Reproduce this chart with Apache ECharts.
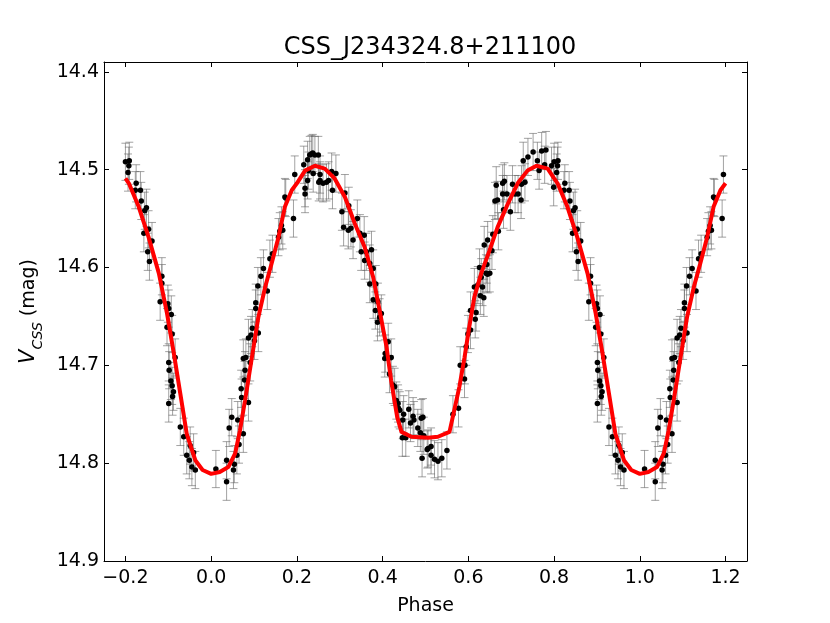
<!DOCTYPE html>
<html>
<head>
<meta charset="utf-8">
<script src="https://cdn.jsdelivr.net/npm/echarts@6/dist/echarts.min.js"></script>
<style>
  html, body { margin: 0; padding: 0; background: #fff; }
  #main { width: 830px; height: 623px; }
</style>
</head>
<body>
<div id="main"></div>
<script>
var obsPhase = [
  0.011,0.036,0.036,0.042,0.048,0.052,0.054,0.060,0.062,0.065,0.070,0.071,0.075,0.075,0.078,0.079,0.081,0.087,0.087,0.091,
  0.093,0.096,0.101,0.104,0.104,0.109,0.110,0.116,0.122,0.131,0.137,0.143,0.157,0.160,0.164,0.167,0.172,0.174,0.192,0.195,
  0.216,0.219,0.219,0.225,0.225,0.227,0.230,0.234,0.237,0.238,0.242,0.250,0.251,0.254,0.254,0.261,0.269,0.274,0.281,0.283,
  0.291,0.305,0.309,0.312,0.320,0.321,0.326,0.331,0.341,0.347,0.350,0.357,0.358,0.362,0.370,0.370,0.374,0.378,0.378,0.383,
  0.384,0.389,0.388,0.393,0.397,0.405,0.406,0.413,0.416,0.420,0.424,0.428,0.432,0.436,0.437,0.440,0.446,0.447,0.449,0.454,
  0.461,0.465,0.471,0.473,0.482,0.488,0.490,0.492,0.494,0.496,0.504,0.506,0.513,0.513,0.521,0.529,0.538,0.550,0.564,0.577,
  0.581,0.591,0.592,0.595,0.599,0.605,0.605,0.616,0.618,0.614,0.622,0.626,0.628,0.630,0.633,0.636,0.637,0.641,0.643,0.645,
  0.645,0.650,0.655,0.657,0.662,0.665,0.668,0.670,0.680,0.680,0.682,0.684,0.690,0.698,0.703,0.709,0.716,0.723,0.724,0.728,
  0.732,0.739,0.751,0.761,0.765,0.771,0.778,0.781,0.794,0.799,0.800,0.806,0.808,0.809,0.823,0.825,0.835,0.837,0.843,0.845,
  0.849,0.852,0.854,0.856,0.862,0.881,0.885,0.885,0.897,0.899,0.901,0.901,0.901,0.902,0.906,0.907,0.909,0.909,0.910,0.912,
  0.916,0.928,0.936,0.943,0.949,0.951,0.955,0.959,0.963
];
var obsMag = [
  14.806,14.819,14.797,14.764,14.753,14.807,14.801,14.792,14.756,14.781,14.724,14.733,14.770,14.693,14.715,14.705,14.692,14.738,14.672,14.697,
  14.669,14.662,14.675,14.642,14.636,14.619,14.667,14.609,14.601,14.624,14.591,14.586,14.569,14.563,14.557,14.562,14.528,14.529,14.550,14.505,
  14.495,14.519,14.525,14.511,14.490,14.501,14.485,14.484,14.483,14.504,14.485,14.485,14.513,14.505,14.511,14.514,14.513,14.511,14.502,14.521,
  14.504,14.543,14.559,14.524,14.562,14.537,14.560,14.572,14.550,14.565,14.584,14.567,14.593,14.584,14.596,14.617,14.582,14.601,14.633,14.644,
  14.617,14.635,14.656,14.651,14.647,14.693,14.688,14.676,14.709,14.692,14.720,14.722,14.736,14.739,14.744,14.746,14.774,14.756,14.750,14.774,
  14.745,14.759,14.752,14.756,14.764,14.769,14.754,14.795,14.753,14.772,14.786,14.785,14.783,14.792,14.796,14.798,14.795,14.787,14.750,14.744,
  14.700,14.714,14.700,14.681,14.668,14.664,14.644,14.653,14.646,14.620,14.618,14.600,14.629,14.610,14.620,14.631,14.577,14.606,14.597,14.607,
  14.572,14.606,14.583,14.566,14.532,14.516,14.531,14.563,14.514,14.525,14.541,14.512,14.525,14.543,14.515,14.525,14.525,14.531,14.515,14.491,
  14.513,14.487,14.482,14.491,14.501,14.481,14.495,14.480,14.496,14.518,14.492,14.503,14.496,14.491,14.521,14.514,14.521,14.532,14.565,14.542,
  14.539,14.584,14.561,14.594,14.573,14.635,14.609,14.616,14.661,14.637,14.642,14.697,14.739,14.705,14.716,14.648,14.668,14.721,14.732,14.727,
  14.692,14.763,14.773,14.792,14.797,14.782,14.804,14.789,14.807
];
var obsErr = 0.019;

// fitted template over one cycle
var fitPhase = [0.000,0.020,0.040,0.056,0.067,0.079,0.095,0.110,0.126,0.141,0.157,0.172,0.188,0.200,0.219,0.242,0.265,0.288,0.312,0.335,
  0.358,0.378,0.393,0.409,0.420,0.434,0.444,0.467,0.506,0.529,0.556,0.567,0.579,0.591,0.602,0.614,0.630,0.649,0.668,0.692,
  0.715,0.738,0.759,0.785,0.800,0.808,0.831,0.854,0.878,0.897,0.913,0.928,0.943,0.963,0.980];
var fitMag = [14.811,14.809,14.804,14.790,14.767,14.736,14.692,14.651,14.620,14.596,14.569,14.538,14.521,14.514,14.501,14.496,14.499,14.509,14.528,14.555,
  14.579,14.610,14.644,14.681,14.716,14.753,14.768,14.773,14.774,14.773,14.768,14.746,14.722,14.692,14.661,14.630,14.606,14.583,14.559,14.535,
  14.514,14.501,14.496,14.499,14.509,14.514,14.538,14.569,14.606,14.647,14.688,14.729,14.770,14.797,14.807];

var xTicks = [-0.2, 0.0, 0.2, 0.4, 0.6, 0.8, 1.0, 1.2];
var yTicks = [14.4, 14.5, 14.6, 14.7, 14.8, 14.9];

// repeat the cycle over -0.2..1.2 like the original plot
function fold(ph, mg, extra) {
  var out = [];
  [-1, 0, 1].forEach(function (k) {
    for (var i = 0; i < ph.length; i++) {
      var p = +(ph[i] + k).toFixed(4);
      if (p >= -0.2 && p <= 1.2) {
        out.push(extra === undefined ? [p, mg[i]] : [p, mg[i], extra]);
      }
    }
  });
  out.sort(function (a, b) { return a[0] - b[0]; });
  return out;
}
var obsData = fold(obsPhase, obsMag, obsErr);
var fitData = fold(fitPhase, fitMag);

var font = 'DejaVu Sans';
var tickFmt = function (v) { return v.toFixed(1).replace('-', '\u2212'); };

var myChart = echarts.init(document.getElementById('main'));

var frameLine = { onZero: false, lineStyle: { color: '#000', width: 1 } };

var option = {
  backgroundColor: '#fff',
  animation: false,
  title: {
    text: 'CSS_J234324.8+211100',
    left: 425, textAlign: 'center',
    top: 31,
    textStyle: { fontFamily: font, fontSize: 24, fontWeight: 'normal', color: '#000' }
  },
  grid: { left: 104, right: 83, top: 62, bottom: 62 },
  xAxis: [
    {
      type: 'value', min: -0.25, max: 1.25,
      axisLine: frameLine,
      axisTick: { inside: true, length: 5, customValues: xTicks, lineStyle: { color: '#000' } },
      axisLabel: { customValues: xTicks, formatter: tickFmt, fontFamily: font, fontSize: 19, color: '#000', margin: 8 },
      splitLine: { show: false },
      name: 'Phase', nameLocation: 'middle', nameGap: 36,
      nameTextStyle: { fontFamily: font, fontSize: 19, color: '#000' }
    },
    {
      type: 'value', position: 'top', min: -0.25, max: 1.25,
      axisLine: frameLine,
      axisTick: { inside: true, length: 5, customValues: xTicks, lineStyle: { color: '#000' } },
      axisLabel: { show: false },
      splitLine: { show: false }
    }
  ],
  yAxis: [
    {
      type: 'value', inverse: true, min: 14.39, max: 14.9,
      axisLine: frameLine,
      axisTick: { inside: true, length: 5, customValues: yTicks, lineStyle: { color: '#000' } },
      axisLabel: { customValues: yTicks, formatter: tickFmt, fontFamily: font, fontSize: 19, color: '#000', margin: 5 },
      splitLine: { show: false },
      name: '{v|V}{s|CSS}{m| (mag)}', nameLocation: 'middle', nameRotate: 90, nameGap: 54,
      nameTextStyle: {
        color: '#000',
        rich: {
          v: { fontFamily: font, fontStyle: 'italic', fontSize: 21, lineHeight: 26, verticalAlign: 'middle' },
          s: { fontFamily: font, fontStyle: 'italic', fontSize: 14, lineHeight: 26, verticalAlign: 'bottom', padding: [0, 0, -4, 0] },
          m: { fontFamily: font, fontSize: 19, lineHeight: 26, verticalAlign: 'middle' }
        }
      }
    },
    {
      type: 'value', position: 'right', inverse: true, min: 14.39, max: 14.9,
      axisLine: frameLine,
      axisTick: { inside: true, length: 5, customValues: yTicks, lineStyle: { color: '#000' } },
      axisLabel: { show: false },
      splitLine: { show: false }
    }
  ],
  series: [
    {
      // error bars with caps
      type: 'custom',
      data: obsData,
      z: 1,
      renderItem: function (params, api) {
        var x = api.value(0), y = api.value(1), e = api.value(2);
        var c = api.coord([x, y]);
        var t = api.coord([x, y - e]);
        var b = api.coord([x, y + e]);
        var st = { stroke: 'rgba(100,100,100,0.6)', lineWidth: 1 };
        return {
          type: 'group',
          children: [
            { type: 'line', shape: { x1: c[0], y1: t[1], x2: c[0], y2: b[1] }, style: st },
            { type: 'line', shape: { x1: c[0] - 4, y1: t[1], x2: c[0] + 4, y2: t[1] }, style: st },
            { type: 'line', shape: { x1: c[0] - 4, y1: b[1], x2: c[0] + 4, y2: b[1] }, style: st }
          ]
        };
      }
    },
    {
      type: 'scatter',
      data: obsData,
      symbolSize: 5.5,
      itemStyle: { color: '#000', opacity: 1 },
      z: 2
    },
    {
      type: 'line',
      data: fitData,
      showSymbol: false,
      lineStyle: { color: '#ff0000', width: 4 },
      z: 3
    }
  ]
};

myChart.setOption(option);
</script>
</body>
</html>
